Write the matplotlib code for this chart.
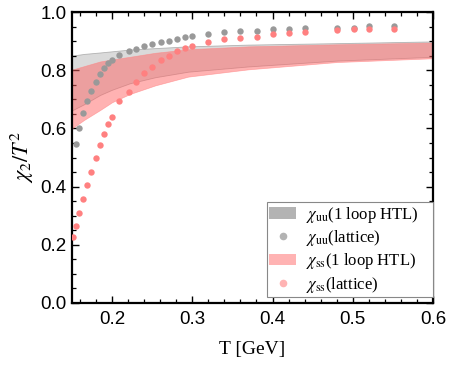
import matplotlib
matplotlib.use("Agg")
import matplotlib.pyplot as plt
from matplotlib.patches import Patch
from matplotlib.lines import Line2D
from matplotlib.ticker import MultipleLocator, FuncFormatter

# ---- data ----
T_uu_lat = [0.155, 0.159, 0.164, 0.169, 0.174, 0.180, 0.185, 0.190, 0.195, 0.200,
            0.209, 0.221, 0.230, 0.240, 0.250, 0.261, 0.271, 0.281, 0.291, 0.300,
            0.320, 0.340, 0.359, 0.381, 0.400, 0.421, 0.440, 0.480, 0.501, 0.520, 0.551]
chi_uu_lat = [0.546, 0.600, 0.652, 0.693, 0.730, 0.760, 0.787, 0.809, 0.824, 0.834,
              0.852, 0.866, 0.874, 0.883, 0.891, 0.897, 0.901, 0.908, 0.913, 0.918,
              0.923, 0.932, 0.936, 0.936, 0.942, 0.942, 0.946, 0.946, 0.946, 0.951, 0.951]

T_ss_lat = [0.151, 0.155, 0.159, 0.164, 0.169, 0.174, 0.180, 0.185, 0.190, 0.195, 0.200,
            0.209, 0.221, 0.230, 0.240, 0.250, 0.261, 0.271, 0.281, 0.291, 0.300,
            0.320, 0.340, 0.360, 0.381, 0.400, 0.421, 0.440, 0.480, 0.501, 0.520, 0.551]
chi_ss_lat = [0.228, 0.263, 0.308, 0.356, 0.405, 0.449, 0.497, 0.542, 0.582, 0.614, 0.640,
              0.694, 0.726, 0.760, 0.791, 0.812, 0.834, 0.850, 0.867, 0.875, 0.884,
              0.896, 0.906, 0.911, 0.915, 0.923, 0.928, 0.933, 0.937, 0.942, 0.942, 0.942]

T_band = [0.150, 0.165, 0.185, 0.200, 0.222, 0.254, 0.295, 0.370, 0.480, 0.600]
uu_htl_hi = [0.850, 0.856, 0.861, 0.865, 0.871, 0.876, 0.882, 0.888, 0.893, 0.899]
uu_htl_lo = [0.662, 0.683, 0.715, 0.733, 0.755, 0.776, 0.795, 0.813, 0.833, 0.846]
ss_htl_hi = [0.802, 0.814, 0.830, 0.837, 0.846, 0.860, 0.872, 0.882, 0.889, 0.895]
ss_htl_lo = [0.600, 0.629, 0.663, 0.690, 0.718, 0.748, 0.778, 0.803, 0.828, 0.841]

legend_labels = [r"$\chi_{\rm uu}$(1 loop HTL)", r"$\chi_{\rm uu}$(lattice)",
                 r"$\chi_{\rm ss}$(1 loop HTL)", r"$\chi_{\rm ss}$(lattice)"]

plt.rcParams['mathtext.fontset'] = 'stix'
plt.rcParams['font.family'] = ['Liberation Sans', 'DejaVu Sans']

fig = plt.figure(figsize=(4.63, 3.72), dpi=100)
ax = fig.add_axes([0.1555, 0.1855, 0.7795, 0.7822])

gray_face = (0.62, 0.62, 0.62, 0.38)
red_face = (1.0, 0.40, 0.40, 0.50)

ax.fill_between(T_band, uu_htl_lo, uu_htl_hi, facecolor=gray_face,
                edgecolor=(0.55, 0.55, 0.55, 0.6), linewidth=0.6, zorder=1)
ax.fill_between(T_band, ss_htl_lo, ss_htl_hi, facecolor=red_face,
                edgecolor=(1.0, 0.5, 0.5, 0.6), linewidth=0.5, zorder=2)

ax.plot(T_uu_lat, chi_uu_lat, 'o', color='#999999', ms=4.6, mew=0, zorder=3)
ax.plot(T_ss_lat, chi_ss_lat, 'o', color='#ff8080', ms=4.6, mew=0, zorder=4)

ax.set_xlim(0.15, 0.6)
ax.set_ylim(0.0, 1.0)
ax.xaxis.set_major_locator(MultipleLocator(0.1))
ax.xaxis.set_minor_locator(MultipleLocator(0.02))
ax.yaxis.set_major_locator(MultipleLocator(0.2))
ax.yaxis.set_minor_locator(MultipleLocator(0.05))
ax.xaxis.set_major_formatter(FuncFormatter(lambda v, p: f"{v:.1f}"))
ax.yaxis.set_major_formatter(FuncFormatter(lambda v, p: f"{v:.1f}"))

for s in ax.spines.values():
    s.set_linewidth(1.6)
    s.set_color('black')

ax.tick_params(which='both', direction='in', top=True, right=True, labelsize=13.5)
ax.tick_params(axis='y', pad=4)
ax.tick_params(axis='x', pad=6)
ax.tick_params(which='major', length=5, width=1.0)
ax.tick_params(which='minor', length=3, width=0.9)

ax.set_xlabel("T [GeV]", family=['Liberation Serif'], fontsize=14, labelpad=9)
ax.set_ylabel(r"$\chi_2/T^2$", fontsize=16, labelpad=3)

handles = [Patch(facecolor='#b3b3b3', edgecolor='none'),
           Line2D([], [], marker='o', ls='none', color='#b3b3b3', ms=5.5, mew=0),
           Patch(facecolor='#ffb3b3', edgecolor='none'),
           Line2D([], [], marker='o', ls='none', color='#ffb3b3', ms=5.5, mew=0)]
leg = ax.legend(handles, legend_labels, loc='lower left', bbox_to_anchor=(0.54, 0.02, 0.46, 0.3),
                mode='expand', borderaxespad=0, fancybox=False, framealpha=1, edgecolor='#888888',
                prop={'family': 'Liberation Serif', 'size': 12},
                handlelength=1.6, handletextpad=0.6, labelspacing=0.2, borderpad=0.15)
leg.get_frame().set_linewidth(0.8)

fig.savefig("out.png", dpi=100)
